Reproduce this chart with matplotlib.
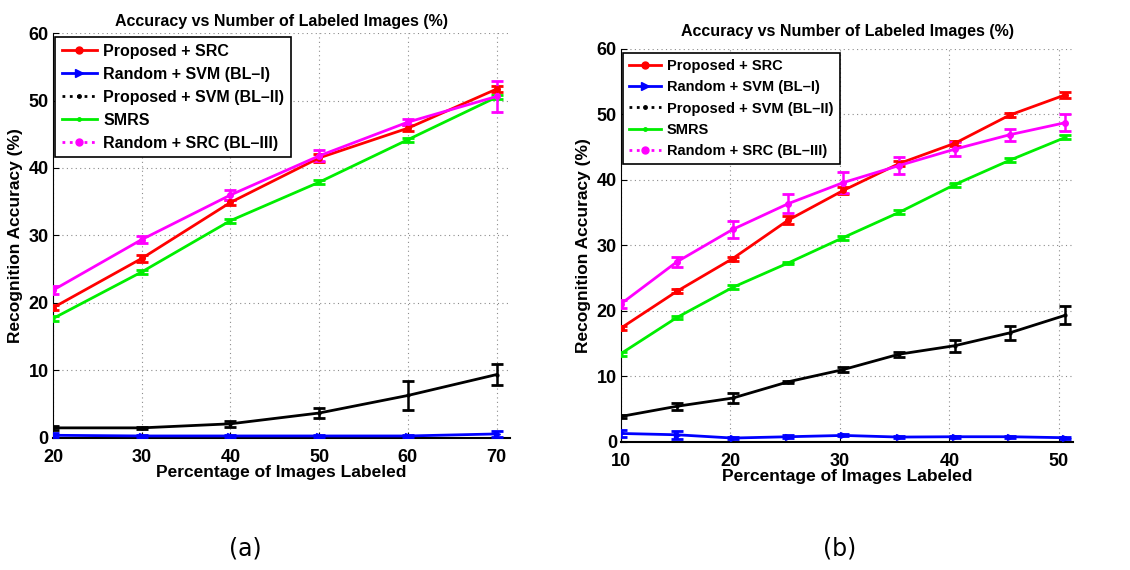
"""Two panels: recognition accuracy vs percentage of labeled images."""

import matplotlib

matplotlib.use("Agg")

import matplotlib.pyplot as plt
from matplotlib.lines import Line2D

plt.rcParams["font.family"] = ["Liberation Sans", "DejaVu Sans"]

TITLE = "Accuracy vs Number of Labeled Images (%)"
XLABEL = "Percentage of Images Labeled"
YLABEL = "Recognition Accuracy (%)"
NAMES = [
    "Proposed + SRC",
    "Random + SVM (BL\u2013I)",
    "Proposed + SVM (BL\u2013II)",
    "SMRS",
    "Random + SRC (BL\u2013III)",
]

# panel (a)
x_a = [20, 30, 40, 50, 60, 70]
src_a = [19.3, 26.6, 34.9, 41.5, 45.9, 51.7]
src_a_err = [0.4, 0.5, 0.4, 0.6, 0.4, 0.5]
svm1_a = [0.4, 0.3, 0.3, 0.3, 0.3, 0.6]
svm1_a_err = [0.3, 0.15, 0.15, 0.15, 0.2, 0.4]
svm2_a = [1.5, 1.5, 2.1, 3.7, 6.3, 9.4]
svm2_a_err = [0.35, 0.2, 0.4, 0.75, 2.2, 1.5]
smrs_a = [17.7, 24.6, 32.2, 37.9, 44.2, 50.5]
smrs_a_err = [0.3, 0.3, 0.3, 0.3, 0.3, 0.3]
rsrc_a = [21.9, 29.4, 36.0, 41.8, 46.8, 50.6]
rsrc_a_err = [0.6, 0.5, 0.8, 0.8, 0.5, 2.3]

# panel (b)
x_b = [10, 15.1, 20.2, 25.3, 30.3, 35.4, 40.5, 45.5, 50.6]
src_b = [17.4, 23.0, 28.0, 33.9, 38.4, 42.5, 45.6, 49.9, 53.0]
src_b_err = [0.3, 0.3, 0.3, 0.6, 0.5, 0.4, 0.4, 0.3, 0.5]
svm1_b = [1.3, 1.1, 0.6, 0.8, 1.0, 0.75, 0.8, 0.8, 0.65]
svm1_b_err = [0.6, 0.6, 0.15, 0.2, 0.15, 0.15, 0.15, 0.15, 0.15]
svm2_b = [3.9, 5.45, 6.7, 9.2, 11.05, 13.4, 14.7, 16.65, 19.35]
svm2_b_err = [0.2, 0.5, 0.8, 0.15, 0.4, 0.4, 0.9, 1.1, 1.4]
smrs_b = [13.5, 19.0, 23.6, 27.35, 31.2, 35.05, 39.3, 43.0, 46.5]
smrs_b_err = [0.3, 0.3, 0.3, 0.2, 0.3, 0.3, 0.3, 0.3, 0.3]
rsrc_b = [21.1, 27.5, 32.45, 36.4, 39.6, 42.2, 44.7, 46.9, 48.75]
rsrc_b_err = [0.6, 0.8, 1.3, 1.5, 1.6, 1.35, 1.1, 0.9, 1.35]

COLORS = ["#ff0000", "#0000ff", "#000000", "#00ee00", "#ff00ff"]
MARKERS = ["o", ">", ".", ".", "o"]
MSIZES = [4, 5, 4, 4, 4]
LEG_STYLES = ["-", "-", ":", "-", ":"]


def draw_panel(ax, x, series, errs, xlim, xticks, legend_size, title_pad):
    for i, (y, e) in enumerate(zip(series, errs)):
        ax.errorbar(x, y, yerr=e, color=COLORS[i], lw=2, marker=MARKERS[i],
                    ms=MSIZES[i], capsize=4, capthick=2, elinewidth=1.8,
                    zorder=3 + (i == 1))
    ax.set_xlim(*xlim)
    ax.set_ylim(0, 60)
    ax.set_xticks(xticks)
    ax.set_yticks(range(0, 61, 10))
    ax.grid(True, linestyle=(0, (1, 3)), color="0.55", lw=0.8)
    ax.tick_params(direction="in", length=4, labelsize=13)
    ax.tick_params(axis="x", pad=8)
    ax.tick_params(axis="y", pad=3)
    for lab in ax.get_xticklabels() + ax.get_yticklabels():
        lab.set_fontweight("bold")
    for side in ("top", "right"):
        ax.spines[side].set_visible(False)
    ax.spines["bottom"].set_linewidth(1.5)
    ax.set_xlabel(XLABEL, fontsize=12.5, fontweight="bold", labelpad=-1)
    ax.set_ylabel(YLABEL, fontsize=12.5, fontweight="bold", labelpad=4)
    ax.set_title(TITLE, fontsize=11.5, fontweight="bold", pad=title_pad)

    handles = [Line2D([], [], color=COLORS[i], lw=2, ls=LEG_STYLES[i],
                      marker=MARKERS[i], ms=MSIZES[i] + 1)
               for i in range(5)]
    leg = ax.legend(handles, NAMES, loc="upper left",
                    bbox_to_anchor=(0.004, 0.99), borderaxespad=0,
                    prop={"size": legend_size, "weight": "bold"},
                    handlelength=2.2, handletextpad=0.4, labelspacing=0.5,
                    borderpad=0.42, fancybox=False, framealpha=1)
    leg.get_frame().set_edgecolor("black")
    leg.get_frame().set_linewidth(1.2)


fig = plt.figure(figsize=(11.3, 5.7), dpi=100)

ax_a = fig.add_axes([0.0469, 0.2316, 0.4044, 0.7105])
draw_panel(ax_a, x_a, [src_a, svm1_a, svm2_a, smrs_a, rsrc_a],
           [src_a_err, svm1_a_err, svm2_a_err, smrs_a_err, rsrc_a_err],
           (20, 71.5), range(20, 71, 10), 11.5, 5)

ax_b = fig.add_axes([0.5496, 0.2246, 0.4, 0.6895])
draw_panel(ax_b, x_b, [src_b, svm1_b, svm2_b, smrs_b, rsrc_b],
           [src_b_err, svm1_b_err, svm2_b_err, smrs_b_err, rsrc_b_err],
           (10, 51.3), range(10, 51, 10), 10.5, 9.5)

fig.text(0.217, 0.038, "(a)", fontsize=17, ha="center", va="center",
         family=["DejaVu Sans"])
fig.text(0.743, 0.038, "(b)", fontsize=17, ha="center", va="center",
         family=["DejaVu Sans"])

fig.savefig("out.png", dpi=100)
